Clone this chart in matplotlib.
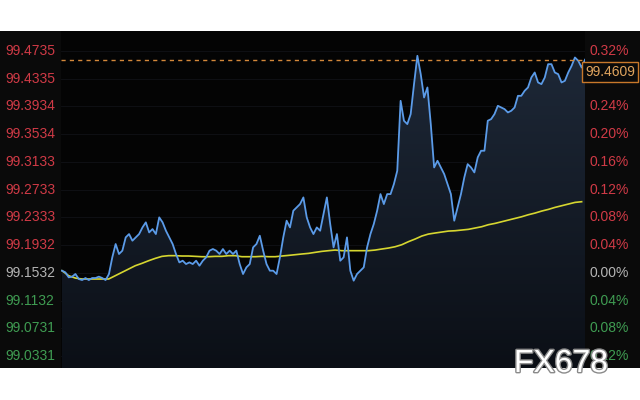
import matplotlib.pyplot as plt
import matplotlib.patheffects as pe
from matplotlib.colors import LinearSegmentedColormap
from matplotlib.patches import Rectangle
from matplotlib.transforms import blended_transform_factory
import numpy as np

# Intraday price (blue), oldest first
price = [
    99.1563, 99.1539, 99.1467, 99.1477, 99.1515, 99.1443, 99.1428, 99.1457, 99.1428, 99.1457,
    99.1457, 99.1477, 99.1457, 99.1428, 99.1515,
    99.1756, 99.1948, 99.1804, 99.1852, 99.2044, 99.2092, 99.1996, 99.2044, 99.2092, 99.2188,
    99.2261, 99.2116, 99.2164, 99.2092, 99.2333, 99.2261, 99.2140, 99.2044, 99.1948, 99.1804,
    99.1683, 99.1707, 99.1659, 99.1683, 99.1659, 99.1707, 99.1635, 99.1707, 99.1756, 99.1852,
    99.1876, 99.1852, 99.1804, 99.1876, 99.1804, 99.1852, 99.1804, 99.1852, 99.1659, 99.1515,
    99.1611, 99.1659, 99.1900, 99.1948, 99.2068, 99.1852, 99.1659, 99.1563, 99.1563, 99.1515,
    99.1756, 99.2044, 99.2285, 99.2188, 99.2429, 99.2477, 99.2525, 99.2621, 99.2333, 99.2188,
    99.2092, 99.2188, 99.2140, 99.2381, 99.2621, 99.2237, 99.1900, 99.2092, 99.1707, 99.1756,
    99.2044, 99.1563, 99.1419, 99.1515, 99.1563, 99.1611, 99.1900, 99.2092, 99.2237, 99.2429,
    99.2669, 99.2525, 99.2669, 99.2669,
    99.2814, 99.3006, 99.4016, 99.3728, 99.3680, 99.3824, 99.4257, 99.4666, 99.4401, 99.4064,
    99.4209, 99.3680, 99.3054, 99.3150, 99.3054, 99.2958, 99.2814, 99.2669, 99.2285, 99.2477,
    99.2669, 99.2910, 99.3102, 99.3054, 99.2982, 99.3199, 99.3295, 99.3295, 99.3728, 99.3752,
    99.3824, 99.3944, 99.3920, 99.3896, 99.3848, 99.3872, 99.3920, 99.4088, 99.4088, 99.4161,
    99.4209, 99.4353, 99.4425, 99.4281, 99.4257, 99.4353, 99.4545, 99.4545, 99.4425, 99.4401,
    99.4281, 99.4305, 99.4425, 99.4521, 99.4642, 99.4593, 99.4497, 99.4609,
]

# Moving average (yellow)
ma = [
    99.1563, 99.1491, 99.1457, 99.1443, 99.1443, 99.1443, 99.1443, 99.1443, 99.1491, 99.1539,
    99.1587, 99.1635, 99.1669, 99.1707, 99.1741, 99.1770, 99.1780, 99.1780, 99.1775, 99.1775,
    99.1770, 99.1765, 99.1765, 99.1770, 99.1770, 99.1780, 99.1780, 99.1765, 99.1765, 99.1765,
    99.1770, 99.1765, 99.1765, 99.1775, 99.1784, 99.1794, 99.1804, 99.1813, 99.1828, 99.1842,
    99.1852, 99.1861, 99.1852, 99.1852, 99.1852, 99.1852, 99.1852, 99.1861, 99.1876, 99.1890,
    99.1909, 99.1938, 99.1982, 99.2020, 99.2063, 99.2092, 99.2107, 99.2121, 99.2135, 99.2140,
    99.2150, 99.2160, 99.2179, 99.2198, 99.2227, 99.2246, 99.2270, 99.2294, 99.2318, 99.2342,
    99.2371, 99.2395, 99.2424, 99.2448, 99.2477, 99.2501, 99.2525, 99.2549, 99.2559,
]

left_ticks = [99.4735, 99.4335, 99.3934, 99.3534, 99.3133, 99.2733,
              99.2333, 99.1932, 99.1532, 99.1132, 99.0731, 99.0331]
right_labels = ['0.32%', '0.28%', '0.24%', '0.20%', '0.16%', '0.12%',
                '0.08%', '0.04%', '0.00%', '0.04%', '0.08%', '0.12%']
base = 99.1532
last_price = 99.4609

UP = '#d03a46'
DOWN = '#3f9c52'
FLAT = '#b4b4b4'

fig = plt.figure(figsize=(6.4, 4), dpi=100, facecolor='white')
# dark panel behind the axes and both label columns
fig.patches.append(Rectangle((0, 32 / 400), 1, 337 / 400, transform=fig.transFigure,
                             facecolor='#0a0a0a', edgecolor='none', zorder=-1))

ax = fig.add_axes([61 / 640, 32 / 400, 524 / 640, 337 / 400])
ax.set_zorder(1)
ax.set_facecolor('#040404')
for s in ax.spines.values():
    s.set_visible(False)
ax.set_xticks([])
ax.set_yticks([])

ymin, ymax = 99.0158, 99.5024
x = np.arange(len(price))
xmin, xmax = -0.3, len(price) - 1

# faint grid
for v in left_ticks:
    ax.axhline(v, color='#101216', lw=0.6, zorder=1)

# gradient area under the price line
poly = ax.fill_between(x, price, ymin, color='none')
cmap = LinearSegmentedColormap.from_list('area', ['#0b0f16', '#1f2a3a'])
grad = ax.imshow(np.linspace(1, 0, 256).reshape(-1, 1), cmap=cmap, aspect='auto',
                 extent=[xmin, xmax, ymin, ymax], zorder=2)
grad.set_clip_path(poly.get_paths()[0], transform=ax.transData)

ax.plot(np.linspace(0, len(price) - 2, len(ma)), ma, color='#d6d630', lw=1.2, zorder=3)
ax.plot(x, price, color='#5b9be8', lw=1.3, zorder=4)
ax.axhline(last_price, color='#d4883a', lw=1, ls=(0, (3, 3)), zorder=5)

ax.set_xlim(xmin, xmax)
ax.set_ylim(ymin, ymax)

# price and percent labels
trans = blended_transform_factory(fig.transFigure, ax.transData)
for v, lab in zip(left_ticks, right_labels):
    c = UP if v > base + 1e-6 else (DOWN if v < base - 1e-6 else FLAT)
    fig.text(5 / 640, v, f'{v:.4f}', transform=trans, color=c, fontsize=10,
             family='Liberation Sans', ha='left', va='center', zorder=5)
    fig.text(590 / 640, v, lab, transform=trans, color=c, fontsize=10,
             family='Liberation Sans', ha='left', va='center', zorder=5)

# last price box
fig.text(585 / 640, (400 - 72) / 400, f'{last_price:.4f}', color='#e0a45e', fontsize=10,
         family='Liberation Sans', ha='left', va='center', zorder=10,
         bbox=dict(facecolor='#0a0a0a', edgecolor='#c8782a', boxstyle='square,pad=0.25', lw=1))

# watermark
fig.text(561 / 640, (400 - 364) / 400, 'FX678', color='white', fontsize=23,
         family='Liberation Sans', ha='center', va='center', zorder=11,
         path_effects=[pe.withStroke(linewidth=2, foreground='#8a8a8a')])

plt.savefig('out.png', dpi=100, facecolor='white')
